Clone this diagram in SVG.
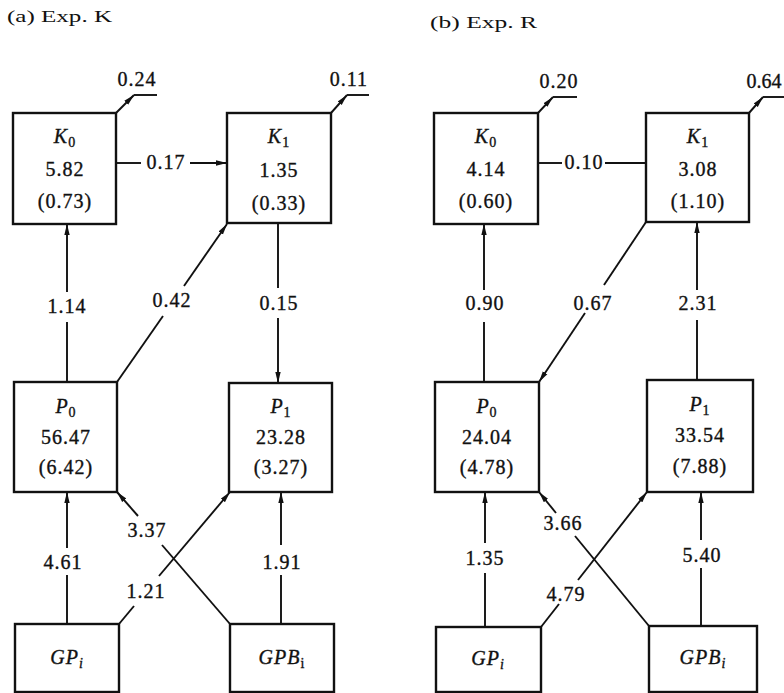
<svg xmlns="http://www.w3.org/2000/svg" width="784" height="693" viewBox="0 0 784 693">
<style>
.box{fill:#fff;stroke:#111;stroke-width:2.4}
.ln{stroke:#111;stroke-width:1.9;fill:none}
.t{font-family:"Liberation Serif","Times New Roman",serif;font-size:20px;fill:#111;stroke:#111;stroke-width:0.35;text-anchor:middle;letter-spacing:1px}
.title{font-family:"Liberation Serif","Times New Roman",serif;font-size:17px;fill:#111}
.i{font-style:italic}
</style>
<defs>
<marker id="ah" markerUnits="userSpaceOnUse" markerWidth="12" markerHeight="7" refX="11" refY="3.5" orient="auto">
<path d="M0,0.8 L11,3.5 L0,6.2 z" fill="#111"/>
</marker>
</defs>
<rect width="784" height="693" fill="#fff"/>
<text class="title" x="7" y="22" textLength="105" lengthAdjust="spacingAndGlyphs">(a) Exp.  K</text>
<text class="title" x="430" y="28" textLength="107" lengthAdjust="spacingAndGlyphs">(b) Exp.  R</text>

<g id="connectors">
<!-- panel a -->
<line class="ln" x1="116" y1="113" x2="134" y2="95" marker-end="url(#ah)"/>
<line class="ln" x1="134" y1="95" x2="157" y2="95"/>
<line class="ln" x1="331" y1="113" x2="347" y2="95" marker-end="url(#ah)"/>
<line class="ln" x1="347" y1="95" x2="369" y2="95"/>
<line class="ln" x1="116" y1="163" x2="141" y2="163"/>
<line class="ln" x1="190" y1="163" x2="227" y2="163" marker-end="url(#ah)"/>
<line class="ln" x1="67" y1="382" x2="67" y2="322"/>
<line class="ln" x1="67" y1="292" x2="67" y2="224" marker-end="url(#ah)"/>
<line class="ln" x1="117" y1="382" x2="163" y2="316"/>
<line class="ln" x1="184" y1="286" x2="227" y2="224" marker-end="url(#ah)"/>
<line class="ln" x1="278" y1="223" x2="278" y2="288"/>
<line class="ln" x1="278" y1="318" x2="278" y2="383" marker-end="url(#ah)"/>
<line class="ln" x1="67" y1="624" x2="67" y2="575"/>
<line class="ln" x1="67" y1="548" x2="67" y2="492" marker-end="url(#ah)"/>
<line class="ln" x1="281" y1="624" x2="281" y2="575"/>
<line class="ln" x1="281" y1="545" x2="281" y2="492" marker-end="url(#ah)"/>
<line class="ln" x1="119" y1="624" x2="134" y2="606"/>
<line class="ln" x1="159" y1="576" x2="230" y2="492" marker-end="url(#ah)"/>
<line class="ln" x1="230" y1="624" x2="162" y2="545"/>
<line class="ln" x1="138" y1="516" x2="117" y2="492" marker-end="url(#ah)"/>
<!-- panel b -->
<line class="ln" x1="538" y1="113" x2="553" y2="97" marker-end="url(#ah)"/>
<line class="ln" x1="553" y1="97" x2="577" y2="97"/>
<line class="ln" x1="749" y1="113" x2="763" y2="97" marker-end="url(#ah)"/>
<line class="ln" x1="763" y1="97" x2="784" y2="97"/>
<line class="ln" x1="538" y1="163" x2="562" y2="163"/>
<line class="ln" x1="605" y1="163" x2="646" y2="163"/>
<line class="ln" x1="484" y1="382" x2="484" y2="322"/>
<line class="ln" x1="484" y1="290" x2="484" y2="224" marker-end="url(#ah)"/>
<line class="ln" x1="646" y1="222" x2="604" y2="285"/>
<line class="ln" x1="585" y1="313" x2="539" y2="382" marker-end="url(#ah)"/>
<line class="ln" x1="697" y1="380" x2="697" y2="320"/>
<line class="ln" x1="697" y1="290" x2="697" y2="222" marker-end="url(#ah)"/>
<line class="ln" x1="485" y1="627" x2="485" y2="573"/>
<line class="ln" x1="485" y1="543" x2="485" y2="492" marker-end="url(#ah)"/>
<line class="ln" x1="701" y1="626" x2="701" y2="568"/>
<line class="ln" x1="701" y1="540" x2="701" y2="492" marker-end="url(#ah)"/>
<line class="ln" x1="541" y1="627" x2="559" y2="604"/>
<line class="ln" x1="578" y1="580" x2="647" y2="492" marker-end="url(#ah)"/>
<line class="ln" x1="649" y1="626" x2="575" y2="536"/>
<line class="ln" x1="556" y1="513" x2="539" y2="492" marker-end="url(#ah)"/>
<!-- labels -->
<text class="t" x="137" y="86">0.24</text>
<text class="t" x="349" y="86">0.11</text>
<text class="t" x="166" y="169">0.17</text>
<text class="t" x="67" y="313">1.14</text>
<text class="t" x="172" y="307">0.42</text>
<text class="t" x="279" y="310">0.15</text>
<text class="t" x="63" y="569">4.61</text>
<text class="t" x="282" y="569">1.91</text>
<text class="t" x="146" y="598">1.21</text>
<text class="t" x="147" y="537">3.37</text>
<text class="t" x="559" y="88">0.20</text>
<text class="t" x="764" y="88" style="letter-spacing:0">0.64</text>
<text class="t" x="584" y="169">0.10</text>
<text class="t" x="485" y="310">0.90</text>
<text class="t" x="593" y="310">0.67</text>
<text class="t" x="698" y="310">2.31</text>
<text class="t" x="485" y="565">1.35</text>
<text class="t" x="702" y="562">5.40</text>
<text class="t" x="566" y="601">4.79</text>
<text class="t" x="563" y="530">3.66</text>
</g>

<g id="a-K0">
<rect class="box" x="13" y="113" width="103" height="111"/>
<text class="t" x="65" y="143"><tspan class="i">K</tspan><tspan font-size="14" dy="4">0</tspan></text>
<text class="t" x="65" y="176">5.82</text>
<text class="t" x="65" y="208">(0.73)</text>
</g>
<g id="a-K1">
<rect class="box" x="227" y="113" width="104" height="110"/>
<text class="t" x="279" y="143"><tspan class="i">K</tspan><tspan font-size="14" dy="4">1</tspan></text>
<text class="t" x="279" y="177">1.35</text>
<text class="t" x="279" y="210">(0.33)</text>
</g>
<g id="a-P0">
<rect class="box" x="14" y="382" width="103" height="110"/>
<text class="t" x="66" y="413"><tspan class="i">P</tspan><tspan font-size="14" dy="4">0</tspan></text>
<text class="t" x="66" y="444">56.47</text>
<text class="t" x="66" y="474">(6.42)</text>
</g>
<g id="a-P1">
<rect class="box" x="229" y="383" width="103" height="109"/>
<text class="t" x="281" y="413"><tspan class="i">P</tspan><tspan font-size="14" dy="4">1</tspan></text>
<text class="t" x="281" y="444">23.28</text>
<text class="t" x="281" y="474">(3.27)</text>
</g>
<g id="a-GPi">
<rect class="box" x="15" y="624" width="104" height="68"/>
<text class="t" x="67" y="664"><tspan class="i">GP</tspan><tspan class="i" font-size="14" dy="4">i</tspan></text>
</g>
<g id="a-GPBi">
<rect class="box" x="230" y="624" width="104" height="68"/>
<text class="t" x="282" y="664"><tspan class="i">GPB</tspan><tspan font-size="14" dy="4">i</tspan></text>
</g>

<g id="b-K0">
<rect class="box" x="434" y="113" width="104" height="111"/>
<text class="t" x="486" y="143"><tspan class="i">K</tspan><tspan font-size="14" dy="4">0</tspan></text>
<text class="t" x="486" y="176">4.14</text>
<text class="t" x="486" y="208">(0.60)</text>
</g>
<g id="b-K1">
<rect class="box" x="646" y="113" width="103" height="109"/>
<text class="t" x="698" y="143"><tspan class="i">K</tspan><tspan font-size="14" dy="4">1</tspan></text>
<text class="t" x="698" y="176">3.08</text>
<text class="t" x="698" y="208">(1.10)</text>
</g>
<g id="b-P0">
<rect class="box" x="435" y="382" width="104" height="110"/>
<text class="t" x="487" y="413"><tspan class="i">P</tspan><tspan font-size="14" dy="4">0</tspan></text>
<text class="t" x="487" y="444">24.04</text>
<text class="t" x="487" y="474">(4.78)</text>
</g>
<g id="b-P1">
<rect class="box" x="647" y="380" width="106" height="112"/>
<text class="t" x="700" y="411"><tspan class="i">P</tspan><tspan font-size="14" dy="4">1</tspan></text>
<text class="t" x="700" y="442">33.54</text>
<text class="t" x="700" y="473">(7.88)</text>
</g>
<g id="b-GPi">
<rect class="box" x="436" y="627" width="105" height="65"/>
<text class="t" x="488" y="665"><tspan class="i">GP</tspan><tspan class="i" font-size="14" dy="4">i</tspan></text>
</g>
<g id="b-GPBi">
<rect class="box" x="649" y="626" width="108" height="66"/>
<text class="t" x="703" y="664"><tspan class="i">GPB</tspan><tspan class="i" font-size="14" dy="4">i</tspan></text>
</g>
</svg>
